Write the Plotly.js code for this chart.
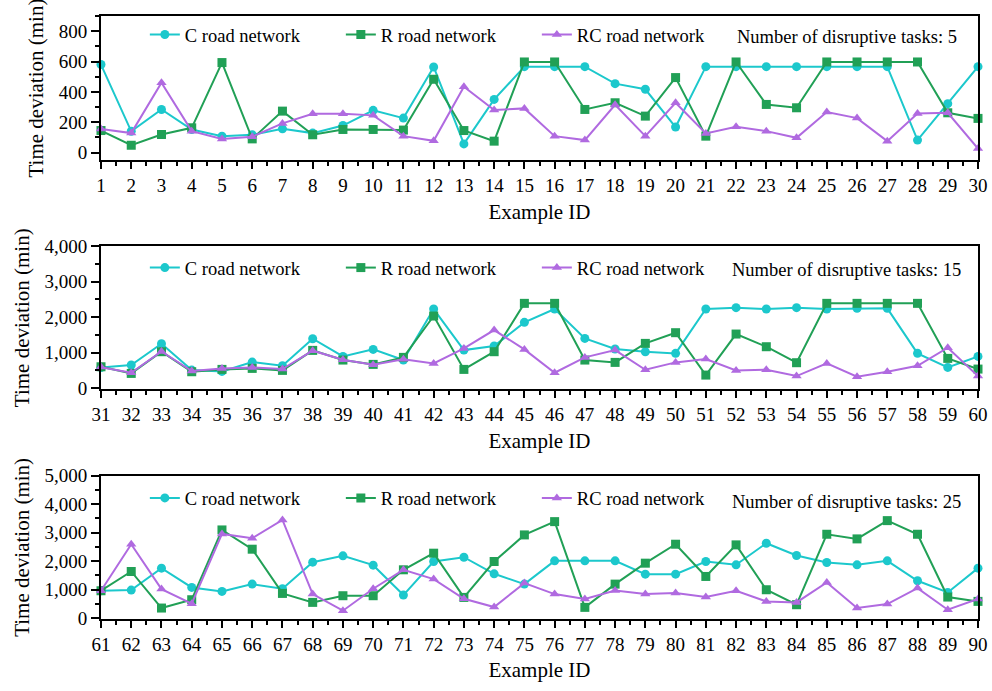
<!DOCTYPE html>
<html>
<head>
<meta charset="utf-8">
<script src="https://cdn.plot.ly/plotly-3.0.1.min.js"></script>
<style>html,body{margin:0;padding:0;background:#fff;}#chart{width:992px;height:691px;}</style>
</head>
<body>
<div id="chart"></div>
<script>
// Example IDs
const ids1 = Array.from({length: 30}, (_, i) => i + 1);
const ids2 = Array.from({length: 30}, (_, i) => i + 31);
const ids3 = Array.from({length: 30}, (_, i) => i + 61);

// Panel 1: 5 disruptive tasks
const c1  = [580,140,284,152,108,117,156,128,178,278,227,564,57,350,566,566,566,454,417,168,566,566,566,566,566,566,566,82,322,566];
const r1  = [145,48,119,163,593,90,273,117,152,152,148,483,145,75,597,597,284,328,240,494,108,597,317,295,597,597,597,597,262,225];
const rc1 = [155,128,460,141,90,104,192,256,256,245,108,77,434,280,291,108,82,315,108,328,126,170,141,97,267,227,75,258,262,26];

// Panel 2: 15 disruptive tasks
const c2  = [580,648,1249,507,470,732,629,1390,892,1089,789,2225,1070,1183,1850,2225,1399,1099,1024,977,2225,2263,2225,2263,2225,2244,2244,977,582,892];
const r2  = [600,413,1024,460,526,554,498,1061,789,667,864,2028,526,1024,2385,2385,789,723,1258,1559,366,1521,1164,714,2385,2385,2385,2385,836,535];
const rc2 = [590,432,1030,479,554,582,535,1052,798,657,808,695,1117,1634,1089,432,864,1070,516,723,817,498,516,338,695,319,460,629,1136,338];

// Panel 3: 25 disruptive tasks
const c3  = [958,981,1752,1075,934,1191,1028,1962,2184,1857,806,1986,2137,1553,1191,2009,2009,2009,1542,1542,1986,1869,2628,2196,1951,1869,2009,1308,899,1752];
const r3  = [958,1635,350,642,3095,2418,864,549,783,783,1694,2278,724,1986,2920,3387,374,1191,1927,2593,1460,2570,993,467,2943,2780,3422,2943,736,584];
const rc3 = [958,2593,1016,502,2955,2803,3446,841,257,1028,1694,1367,677,385,1226,841,666,969,841,876,736,958,584,549,1250,350,491,1051,292,666];

const seriesNames = ['C road network', 'R road network', 'RC road network'];
const seriesColors = ['#1cc8cc', '#21a056', '#b06ae0'];
const seriesSymbols = ['circle', 'square', 'triangle-up'];
const taskLabels = ['Number of disruptive tasks: 5', 'Number of disruptive tasks: 15', 'Number of disruptive tasks: 25'];

const panels = [
  {x: ids1, ys: [c1, r1, rc1]},
  {x: ids2, ys: [c2, r2, rc2]},
  {x: ids3, ys: [c3, r3, rc3]}
];

const FONT = 'Liberation Serif, Times New Roman, serif';
const traces = [];
panels.forEach((p, pi) => {
  const ax = pi === 0 ? '' : String(pi + 1);
  p.ys.forEach((ys, si) => {
    traces.push({
      type: 'scatter', mode: 'lines+markers',
      x: p.x, y: ys, name: seriesNames[si],
      xaxis: 'x' + ax, yaxis: 'y' + ax,
      legend: 'legend' + ax,
      line: {color: seriesColors[si], width: 2},
      marker: {color: seriesColors[si], symbol: seriesSymbols[si], size: 9},
      cliponaxis: false
    });
  });
});

function xAxis(p, anchor) {
  return {
    range: [p.x[0], p.x[p.x.length - 1]], dtick: 1, tick0: p.x[0],
    anchor: anchor, showgrid: false, zeroline: false,
    showline: true, linecolor: '#000', linewidth: 2, mirror: true,
    ticks: 'outside', ticklen: 7, tickwidth: 2, tickcolor: '#000',
    minor: {dtick: 0.5, ticks: 'outside', ticklen: 4, tickwidth: 2, tickcolor: '#000', showgrid: false},
    tickfont: {family: FONT, size: 19, color: '#000'},
    title: {text: 'Example ID', font: {family: FONT, size: 21, color: '#000'}, standoff: 9}
  };
}
function yAxis(anchor, domain, range, dtick, mdt) {
  return {
    domain: domain, range: range, dtick: dtick, tick0: 0, anchor: anchor,
    showgrid: false, zeroline: false, tickformat: ',d',
    showline: true, linecolor: '#000', linewidth: 2, mirror: true,
    ticks: 'outside', ticklen: 8, tickwidth: 2, tickcolor: '#000',
    minor: {dtick: mdt, ticks: 'outside', ticklen: 4, tickwidth: 2, tickcolor: '#000', showgrid: false},
    tickfont: {family: FONT, size: 19, color: '#000'},
    title: {text: 'Time deviation (min)', font: {family: FONT, size: 21, color: '#000'}, standoff: 9}
  };
}

function legendAt(y) {
  return {orientation: 'h', x: 0.05, xanchor: 'left', y: y, yanchor: 'middle',
    bgcolor: 'rgba(0,0,0,0)', font: {family: FONT, size: 18.5, color: '#000'},
    entrywidth: 151, itemclick: false};
}

const layout = {
  width: 992, height: 691,
  margin: {l: 101, r: 14, t: 16, b: 72},
  paper_bgcolor: '#fff', plot_bgcolor: '#fff',
  font: {family: FONT, color: '#000'},
  xaxis: xAxis(panels[0], 'y'),
  xaxis2: xAxis(panels[1], 'y2'),
  xaxis3: xAxis(panels[2], 'y3'),
  yaxis: yAxis('x', [0.761, 1.0], [-50, 900], 200, 100),
  yaxis2: yAxis('x2', [0.3806, 0.6186], [-40, 4000], 1000, 500),
  yaxis3: yAxis('x3', [0, 0.2376], [-35, 5000], 1000, 500),
  legend: legendAt(0.9685),
  legend2: legendAt(0.582),
  legend3: legendAt(0.200),
  annotations: [
    {text: taskLabels[0], xref: 'x domain', yref: 'y domain', x: 0.723, y: 0.854, xanchor: 'left', yanchor: 'middle', showarrow: false, font: {family: FONT, size: 18.5, color: '#000'}},
    {text: taskLabels[1], xref: 'x2 domain', yref: 'y2 domain', x: 0.717, y: 0.833, xanchor: 'left', yanchor: 'middle', showarrow: false, font: {family: FONT, size: 18.5, color: '#000'}},
    {text: taskLabels[2], xref: 'x3 domain', yref: 'y3 domain', x: 0.717, y: 0.819, xanchor: 'left', yanchor: 'middle', showarrow: false, font: {family: FONT, size: 18.5, color: '#000'}}
  ],
  showlegend: true
};

Plotly.newPlot('chart', traces, layout, {displayModeBar: false, staticPlot: true});
</script>
</body>
</html>
